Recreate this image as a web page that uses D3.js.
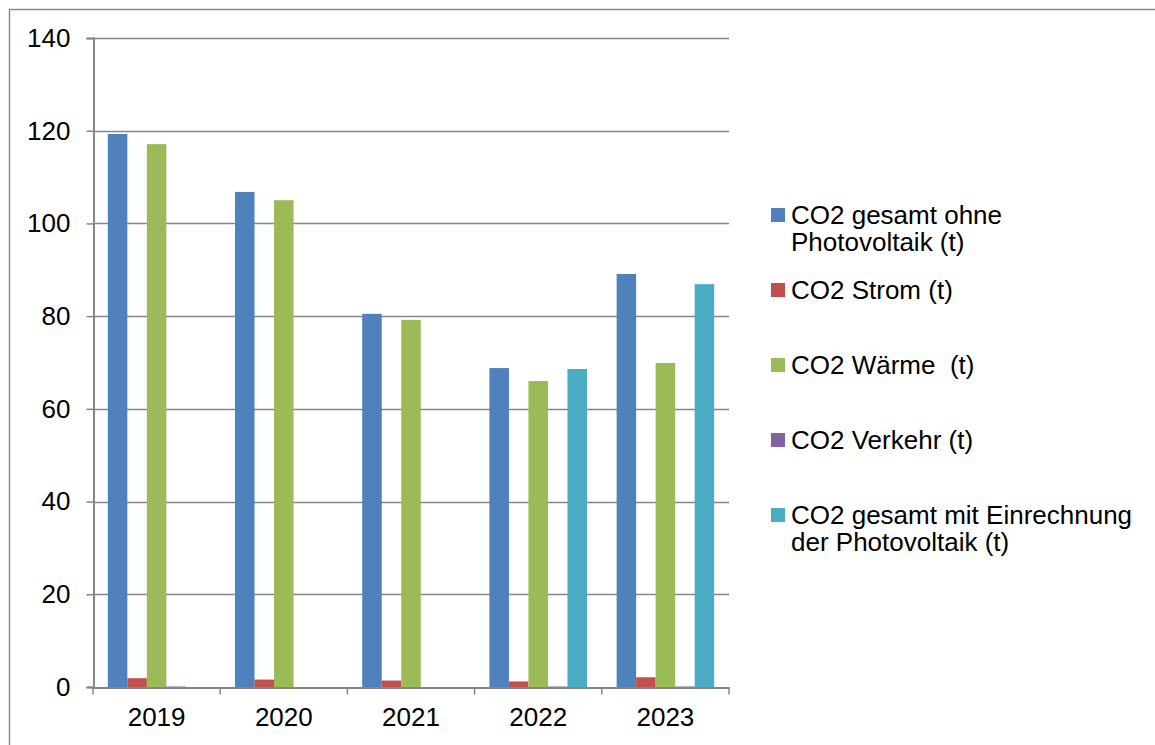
<!DOCTYPE html>
<html>
<head>
  <meta charset="utf-8">
  <title>CO2</title>
  <script src="https://d3js.org/d3.v7.min.js"></script>
  <style>
    body { margin: 0; background: #fff; }
    text { font-family: "Liberation Sans", Arial, sans-serif; fill: #000; }
  </style>
</head>
<body>
<div id="chart"></div>
<script>
// data
var years = ["2019", "2020", "2021", "2022", "2023"];
var seriesNames = [
  ["CO2 gesamt ohne", "Photovoltaik (t)"],
  ["CO2 Strom (t)"],
  ["CO2 Wärme  (t)"],
  ["CO2 Verkehr (t)"],
  ["CO2 gesamt mit Einrechnung", "der Photovoltaik (t)"]
];
var gesamtOhne = [119.3, 106.8, 80.5, 68.8, 89.1];
var strom      = [1.9, 1.6, 1.4, 1.2, 2.1];
var waerme     = [117.1, 105.0, 79.2, 66.0, 69.9];
var verkehr    = [0.1, 0, 0, 0.1, 0.1];
var gesamtMit  = [0, 0, 0, 68.6, 86.9];
var yTicks = [0, 20, 40, 60, 80, 100, 120, 140];

var colors = ["#4F81BD", "#C0504D", "#9BBB59", "#8064A2", "#4BACC6"];
var series = [gesamtOhne, strom, waerme, verkehr, gesamtMit];

var W = 1155, H = 745;
var svg = d3.select("#chart").append("svg")
  .attr("width", W).attr("height", H);

// outer frame
svg.append("rect")
  .attr("x", 9.5).attr("y", 9.5)
  .attr("width", W + 20).attr("height", H + 20)
  .attr("fill", "none").attr("stroke", "#8c8c8c").attr("stroke-width", 1.5);

var plotL = 93, plotR = 729, plotT = 38, plotB = 687;

var x = d3.scaleBand().domain(years).range([plotL, plotR]).paddingInner(0).paddingOuter(0);
var xi = d3.scaleBand().domain(d3.range(5)).range([0, x.bandwidth()]).paddingOuter(0.76).paddingInner(0);
var y = d3.scaleLinear().domain([0, 140]).range([plotB, plotT]);

// gridlines
svg.append("g").selectAll("line").data(yTicks.filter(function(d) { return d > 0; }))
  .enter().append("line")
    .attr("x1", plotL).attr("x2", plotR)
    .attr("y1", function(d) { return Math.round(y(d)) + 0.5; })
    .attr("y2", function(d) { return Math.round(y(d)) + 0.5; })
    .attr("stroke", "#868686").attr("stroke-width", 1.5);

// bars
series.forEach(function(vals, s) {
  svg.append("g").selectAll("rect").data(vals).enter().append("rect")
    .attr("x", function(d, i) { return x(years[i]) + xi(s); })
    .attr("width", xi.bandwidth())
    .attr("y", function(d) { return y(d); })
    .attr("height", function(d) { return plotB - y(d); })
    .attr("fill", colors[s]);
});

// y axis
var yAxis = svg.append("g")
  .attr("transform", "translate(" + (plotL + 0.5) + ",0)")
  .call(d3.axisLeft(y).tickValues(yTicks).tickSize(7).tickPadding(16));
yAxis.select(".domain").attr("stroke", "#868686").attr("stroke-width", 2);
yAxis.selectAll(".tick line").attr("stroke", "#868686").attr("stroke-width", 1.5);
yAxis.selectAll(".tick text").style("font-size", "26px").attr("fill", "#000");

// x axis
var xAxis = svg.append("g")
  .attr("transform", "translate(0," + (plotB + 0.5) + ")")
  .call(d3.axisBottom(x).tickSize(0).tickPadding(20));
xAxis.select(".domain").attr("stroke", "#868686").attr("stroke-width", 2);
xAxis.selectAll(".tick text").style("font-size", "26px").attr("fill", "#000");
xAxis.selectAll(".sep").data(years.concat(["end"])).enter().append("line")
  .attr("class", "sep")
  .attr("x1", function(d, i) { return plotL + i * x.bandwidth(); })
  .attr("x2", function(d, i) { return plotL + i * x.bandwidth(); })
  .attr("y1", 0).attr("y2", 7)
  .attr("stroke", "#868686").attr("stroke-width", 1.5);

// legend
var legend = svg.append("g").attr("transform", "translate(771,208)");
seriesNames.forEach(function(lines, s) {
  var g = legend.append("g").attr("transform", "translate(0," + (s * 75) + ")");
  g.append("rect").attr("width", 14).attr("height", 14).attr("fill", colors[s]);
  lines.forEach(function(t, k) {
    g.append("text")
      .attr("x", 20).attr("y", 7 + k * 27)
      .attr("dy", "0.35em")
      .style("font-size", "26px")
      .style("white-space", "pre")
      .text(t);
  });
});
</script>
</body>
</html>
